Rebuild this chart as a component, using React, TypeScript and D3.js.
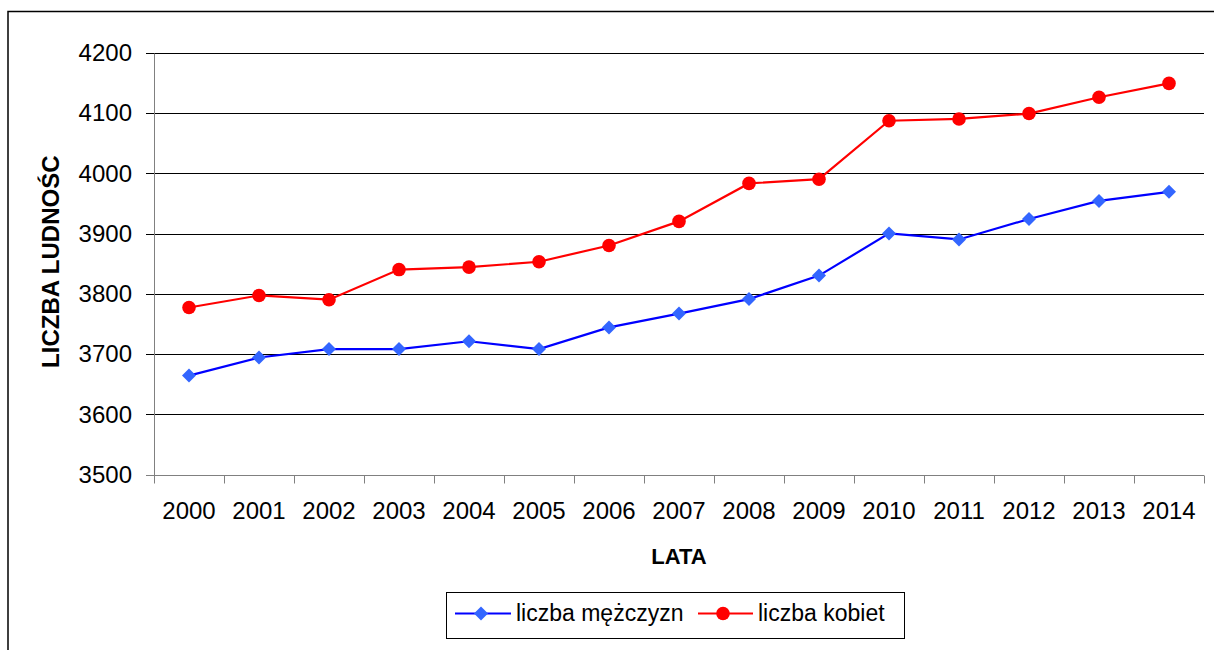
import React from "react";
import * as d3 from "d3";

const years = ["2000", "2001", "2002", "2003", "2004", "2005", "2006", "2007", "2008", "2009", "2010", "2011", "2012", "2013", "2014"];
const men = [3665, 3695, 3709, 3709, 3722, 3709, 3745, 3768, 3792, 3831, 3901, 3891, 3925, 3955, 3970];
const women = [3778, 3798, 3791, 3841, 3845, 3854, 3881, 3921, 3984, 3991, 4088, 4091, 4100, 4127, 4150];
const yTicks = [3500, 3600, 3700, 3800, 3900, 4000, 4100, 4200];

const W = 1214;
const H = 650;
const FONT = "'Liberation Sans', Arial, sans-serif";

export default function App() {
  const x = d3.scaleBand<string>().domain(years).range([154, 1204]);
  const y = d3.scaleLinear().domain([3500, 4200]).range([475, 53.3]);
  const cx = (d: string) => (x(d) ?? 0) + x.bandwidth() / 2;
  // snap a 1px line onto a pixel row
  const snap = (v: number) => Math.floor(v) + 0.5;

  const line = d3
    .line<number>()
    .x((_, i) => cx(years[i]))
    .y((v) => y(v));

  const tickXs = years.map((d) => x(d) ?? 0).concat([x.range()[1]]);
  const diamond = (px: number, py: number, r: number) =>
    `M${px},${py - r}L${px + r},${py}L${px},${py + r}L${px - r},${py}Z`;
  const base = snap(y(3500));

  return (
    <svg
      width={W}
      height={H}
      style={{ position: "absolute", left: 0, top: 0, display: "block", background: "#fff" }}
      fontFamily={FONT}
    >
      {/* outer frame, cut off at right and bottom */}
      <rect x={8} y={11.5} width={1400} height={900} fill="none" stroke="#000" strokeWidth={1.5} />

      {/* gridlines */}
      {yTicks.slice(1).map((t) => (
        <line key={t} x1={146} x2={1204} y1={snap(y(t))} y2={snap(y(t))} stroke="#000" strokeWidth={1} />
      ))}

      {/* axes */}
      <g stroke="#808080" strokeWidth={1}>
        <line x1={154.5} x2={154.5} y1={snap(y(4200))} y2={base} />
        <line x1={146} x2={1204} y1={base} y2={base} />
        {tickXs.map((tx, i) => (
          <line key={i} x1={snap(tx)} x2={snap(tx)} y1={base} y2={base + 8} />
        ))}
      </g>

      {/* y tick labels */}
      {yTicks.map((t) => (
        <text key={t} x={132} y={y(t) + 7.8} textAnchor="end" fontSize={24} fill="#000">
          {t}
        </text>
      ))}

      {/* x tick labels */}
      {years.map((d) => (
        <text key={d} x={cx(d)} y={519} textAnchor="middle" fontSize={24} fill="#000">
          {d}
        </text>
      ))}

      {/* axis titles */}
      <text x={679} y={564} textAnchor="middle" fontSize={22} fontWeight="bold">
        LATA
      </text>
      <text transform="translate(59,261.7) rotate(-90)" textAnchor="middle" fontSize={24} fontWeight="bold">
        LICZBA LUDNOŚC
      </text>

      {/* series */}
      <path d={line(men) ?? ""} fill="none" stroke="#0000ff" strokeWidth={2.2} />
      <path d={line(women) ?? ""} fill="none" stroke="#ff0000" strokeWidth={2.2} />
      {men.map((v, i) => (
        <path key={i} d={diamond(cx(years[i]), y(v), 7)} fill="#3366ff" />
      ))}
      {women.map((v, i) => (
        <circle key={i} cx={cx(years[i])} cy={y(v)} r={6.8} fill="#ff0000" />
      ))}

      {/* legend */}
      <rect x={446.5} y={592.5} width={458} height={46} fill="#fff" stroke="#000" strokeWidth={1} />
      <line x1={455} x2={511} y1={613.5} y2={613.5} stroke="#0000ff" strokeWidth={2.2} />
      <path d={diamond(481, 613.5, 7)} fill="#3366ff" />
      <text x={516} y={621} fontSize={23}>
        liczba mężczyzn
      </text>
      <line x1={698} x2={753} y1={613.5} y2={613.5} stroke="#ff0000" strokeWidth={2.2} />
      <circle cx={723} cy={613.5} r={6.8} fill="#ff0000" />
      <text x={758} y={621} fontSize={23}>
        liczba kobiet
      </text>
    </svg>
  );
}
